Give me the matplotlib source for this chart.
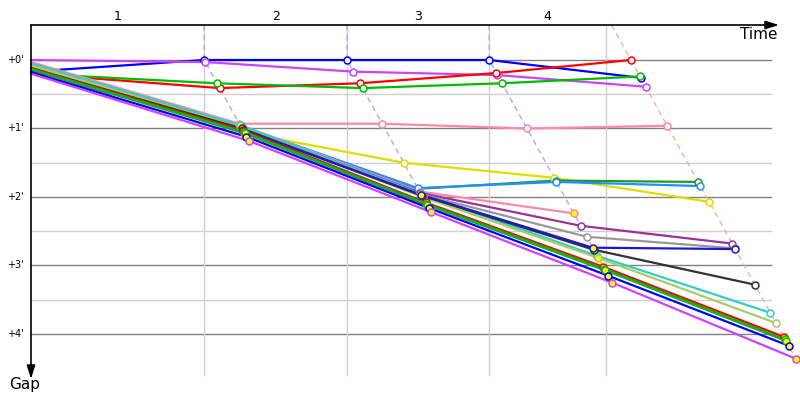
import numpy as np
import matplotlib
matplotlib.use("Agg")
import matplotlib.pyplot as plt

# ---------------- data ----------------
lap_labels = ['1', '2', '3', '4']
lap_grid_times = [4.58, 8.36, 12.12, 15.21]          # leader lap times (minutes)
leader_times = [0.0, 4.58, 8.36, 12.12, 15.87]       # start, lap1, lap2, lap3, finish
gap_ticks = [0, 1, 2, 3, 4]
gap_tick_labels = ["+0'", "+1'", "+2'", "+3'", "+4'"]

nan = np.nan
rider_colors = [
    '#0000ff', '#cc44ff', '#ff0000', '#00bb00',          # front group
    '#ff88aa', '#dddd00',                                # early breakaways
    '#229922', '#1e90ff', '#ff88aa', '#993399', '#999999',
    '#33cccc', '#aacc66', '#333333', '#1a1acc',
    '#ff0000', '#00bb00', '#22aa22', '#0000ff', '#cc44ff',
]
# gaps (minutes) at start, lap 1, lap 2, lap 3, finish
rider_gaps = [
    [0.17, 0.00, 0.00, 0.00, 0.26],
    [0.00, 0.03, 0.17, 0.22, 0.39],
    [0.20, 0.41, 0.34, 0.19, 0.00],
    [0.20, 0.34, 0.41, 0.34, 0.24],
    [0.03, 0.93, 0.93, 1.00, 0.96],
    [0.10, 1.06, 1.50, 1.72, 2.07],
    [0.08, 0.97, 1.88, 1.76, 1.78],
    [0.20, 0.96, 1.87, 1.78, 1.84],
    [0.06, 0.95, 1.92, 2.24, nan],
    [0.10, 0.97, 1.94, 2.42, 2.68],
    [0.10, 0.98, 1.96, 2.58, 2.75],
    [0.05, 0.95, 1.96, 2.86, 3.69],
    [0.08, 0.99, 2.00, 2.89, 3.84],
    [0.12, 1.00, 1.98, 2.77, 3.28],
    [0.15, 1.02, 1.97, 2.74, 2.76],
    [0.12, 1.03, 2.08, 3.02, 4.04],
    [0.13, 1.05, 2.10, 3.05, 4.08],
    [0.14, 1.07, 2.12, 3.07, 4.10],
    [0.18, 1.12, 2.16, 3.15, 4.17],
    [0.20, 1.18, 2.22, 3.25, 4.36],
]
# last point index (1=lap1 .. 4=finish) at which rider is in the main bunch
bunch_until = [-1, -1, -1, -1, 0, 1, 1, 1, 3, 1, 1, 3, 3, 3, 3, 4, 4, 4, 4, 4]

# ---------------- layout (pixel mapping) ----------------
XPX0, XS = 31.0, 37.8     # px of time 0, px per minute
YPX0, YS = 60.0, 68.5     # px of gap 0, px per minute
def tx(px): return (px - XPX0) / XS
def gy(py): return (py - YPX0) / YS

fig = plt.figure(figsize=(8, 4), dpi=100)
ax = fig.add_axes([0, 0, 1, 1])
ax.set_xlim(tx(0), tx(800))
ax.set_ylim(gy(400), gy(0))
ax.axis('off')

top = gy(25)
bottom_grid = gy(375)
right_grid = tx(771)

# horizontal gridlines
for g in np.arange(0, 4.01, 0.5):
    major = abs(g - round(g)) < 1e-6
    ax.plot([0, right_grid], [g, g], color='#808080' if major else '#d0d0d0',
            lw=1.0, zorder=1)
# vertical gridlines
for t in lap_grid_times:
    ax.plot([t, t], [top, bottom_grid], color='#d0d0d0', lw=1.0, zorder=1)

# lap crossing lines (dashed)
gaps_arr = np.array(rider_gaps)
for k in range(1, 5):
    T = leader_times[k]
    gmax = np.nanmax(gaps_arr[:, k])
    if k < 4:
        ax.plot([T, T, T + gmax], [top, 0, gmax], color='#a8acf4', lw=1.0,
                ls=(0, (4, 3)), zorder=2)
    else:
        ax.plot([T + top, T + gmax], [top, gmax], color='#ffaaaa', lw=1.0,
                ls=(0, (4, 3)), zorder=2)

# riders
for i, (c, gaps) in enumerate(zip(rider_colors, rider_gaps)):
    gaps = np.array(gaps, dtype=float)
    xs = np.array(leader_times) + gaps
    xs[0] = leader_times[0]
    ok = ~np.isnan(gaps)
    ax.plot(xs[ok], gaps[ok], color=c, lw=1.6, zorder=3 + i * 0.01,
            solid_capstyle='round')
    for k in np.where(ok)[0]:
        if k == 0:
            continue
        fc = '#ffff00' if k <= bunch_until[i] else 'white'
        ax.plot(xs[k], gaps[k], marker='o', ms=5, mew=1.1, mec=c, mfc=fc,
                zorder=4 + i * 0.01)

# axes with arrows
ax.annotate('', xy=(tx(779), top), xytext=(0, top),
            arrowprops=dict(arrowstyle='-|>,head_length=0.8,head_width=0.25',
                            color='black', lw=1.2, shrinkA=0, shrinkB=0), zorder=10)
ax.annotate('', xy=(0, gy(379)), xytext=(0, top),
            arrowprops=dict(arrowstyle='-|>,head_length=0.8,head_width=0.25',
                            color='black', lw=1.2, shrinkA=0, shrinkB=0), zorder=10)

ax.text(tx(777), gy(35), 'Time', ha='right', va='center', fontsize=11,
        family='DejaVu Sans')
ax.text(tx(25), gy(385), 'Gap', ha='center', va='center', fontsize=11,
        family='DejaVu Sans')

for g, lab in zip(gap_ticks, gap_tick_labels):
    ax.text(tx(24), g, lab, ha='right', va='center', fontsize=7)

bounds = [0.0] + lap_grid_times
for lab, a, b in zip(lap_labels, bounds[:-1], bounds[1:]):
    ax.text((a + b) / 2, gy(17), lab, ha='center', va='center', fontsize=9)

fig.savefig('out.png', dpi=100)
